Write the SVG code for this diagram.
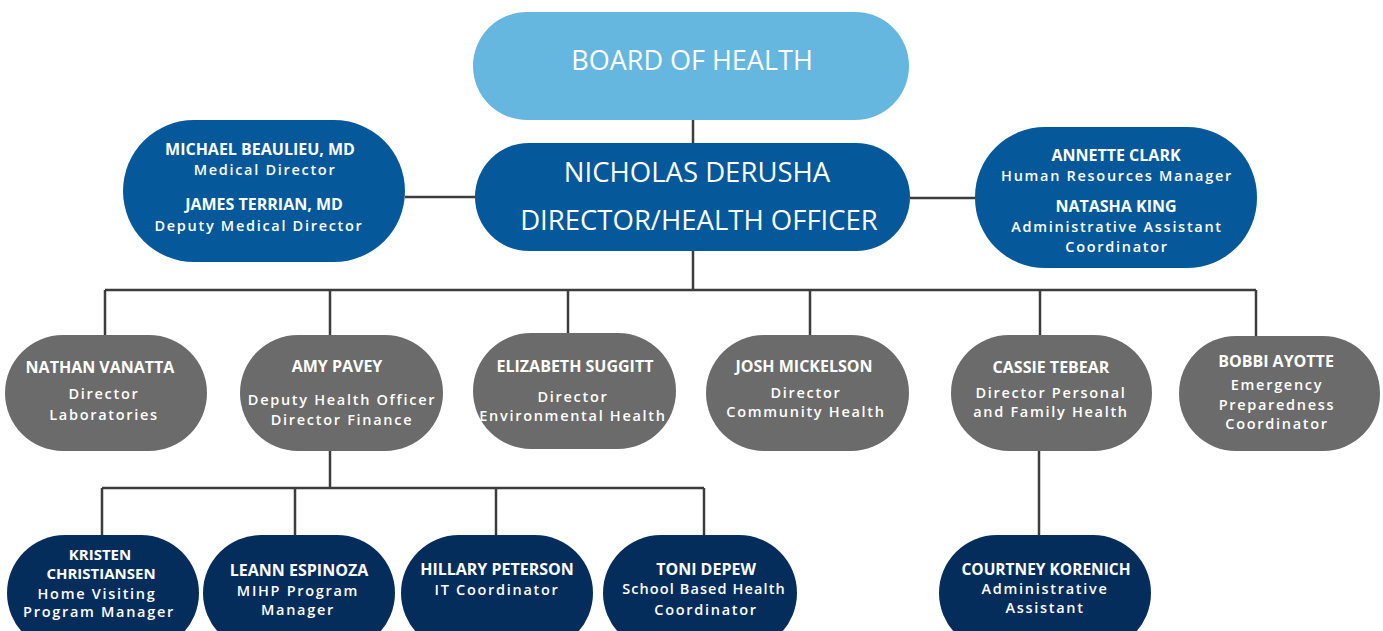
<svg xmlns="http://www.w3.org/2000/svg" width="1383" height="631" viewBox="0 0 1383 631">
<style>
.bg{fill:#ffffff}
.board{fill:#66b7e0}
.blue{fill:#05589a}
.gray{fill:#6b6b6b}
.navy{fill:#052d5c}
.line{stroke:#3d3d3d;stroke-width:2.5;fill:none}
text{font-family:"Open Sans","Liberation Sans",sans-serif;fill:#ffffff;text-anchor:middle}
.big{font-size:27.5px;font-weight:500}
.nm{font-size:16px;font-weight:700}
.sub{font-size:14.5px;font-weight:600;letter-spacing:1.7px}
</style>
<rect class="bg" x="0" y="0" width="1383" height="631"/>
<g id="connectors">
<path class="line" d="M693 120V143"/>
<path class="line" d="M405 197H475"/>
<path class="line" d="M910 198H975"/>
<path class="line" d="M693 251V290"/>
<path class="line" d="M105 290H1256"/>
<path class="line" d="M105 290V335M330 290V335M568 290V333M810 290V335M1040 290V335M1256 290V336"/>
<path class="line" d="M330 451V488"/>
<path class="line" d="M102 488H704"/>
<path class="line" d="M102 488V535M295 488V535M496 488V535M704 488V535"/>
<path class="line" d="M1039 451V535"/>
</g>
<g id="board">
<rect class="board" x="473" y="12" width="436" height="108" rx="54"/>
<text class="big" x="692" y="70" style="font-size:27px">BOARD OF HEALTH</text>
</g>
<g id="director">
<rect class="blue" x="475" y="143" width="435" height="108" rx="54"/>
<text class="big" x="697" y="182">NICHOLAS DERUSHA</text>
<text class="big" x="699" y="230">DIRECTOR/HEALTH OFFICER</text>
</g>
<g id="medical">
<rect class="blue" x="123" y="120" width="282" height="142" rx="71"/>
<text class="nm" x="260" y="155">MICHAEL BEAULIEU, MD</text>
<text class="sub" x="265" y="175">Medical Director</text>
<text class="nm" x="264" y="210">JAMES TERRIAN, MD</text>
<text class="sub" x="259" y="231">Deputy Medical Director</text>
</g>
<g id="hr">
<rect class="blue" x="975" y="127" width="282" height="141" rx="70"/>
<text class="nm" x="1116" y="161">ANNETTE CLARK</text>
<text class="sub" x="1117" y="181">Human Resources Manager</text>
<text class="nm" x="1116" y="212">NATASHA KING</text>
<text class="sub" x="1117" y="232">Administrative Assistant</text>
<text class="sub" x="1117" y="252">Coordinator</text>
</g>
<g id="nathan">
<rect class="gray" x="5" y="335" width="202" height="116" rx="58"/>
<text class="nm" x="100" y="373">NATHAN VANATTA</text>
<text class="sub" x="104" y="399">Director</text>
<text class="sub" x="104" y="420">Laboratories</text>
</g>
<g id="amy">
<rect class="gray" x="240" y="335" width="203" height="116" rx="58"/>
<text class="nm" x="337" y="372">AMY PAVEY</text>
<text class="sub" x="342" y="405">Deputy Health Officer</text>
<text class="sub" x="342" y="425">Director Finance</text>
</g>
<g id="elizabeth">
<rect class="gray" x="473" y="333" width="203" height="116" rx="58"/>
<text class="nm" x="575" y="372">ELIZABETH SUGGITT</text>
<text class="sub" x="573" y="402">Director</text>
<text class="sub" x="573" y="421">Environmental Health</text>
</g>
<g id="josh">
<rect class="gray" x="706" y="335" width="203" height="116" rx="58"/>
<text class="nm" x="804" y="372">JOSH MICKELSON</text>
<text class="sub" x="806" y="398">Director</text>
<text class="sub" x="806" y="417">Community Health</text>
</g>
<g id="cassie">
<rect class="gray" x="951" y="335" width="201" height="116" rx="58"/>
<text class="nm" x="1051" y="373">CASSIE TEBEAR</text>
<text class="sub" x="1051" y="398">Director Personal</text>
<text class="sub" x="1051" y="417">and Family Health</text>
</g>
<g id="bobbi">
<rect class="gray" x="1179" y="336" width="201" height="115" rx="57"/>
<text class="nm" x="1276" y="367">BOBBI AYOTTE</text>
<text class="sub" x="1277" y="390">Emergency</text>
<text class="sub" x="1277" y="410">Preparedness</text>
<text class="sub" x="1277" y="429">Coordinator</text>
</g>
<g id="kristen">
<rect class="navy" x="7" y="535" width="192" height="116" rx="58"/>
<text class="nm" x="100" y="560" style="font-size:15px">KRISTEN</text>
<text class="nm" x="101" y="579" style="font-size:15px">CHRISTIANSEN</text>
<text class="sub" x="97" y="599">Home Visiting</text>
<text class="sub" x="99" y="617">Program Manager</text>
</g>
<g id="leann">
<rect class="navy" x="203" y="535" width="192" height="116" rx="58"/>
<text class="nm" x="299" y="576">LEANN ESPINOZA</text>
<text class="sub" x="298" y="596">MIHP Program</text>
<text class="sub" x="298" y="615">Manager</text>
</g>
<g id="hillary">
<rect class="navy" x="401" y="535" width="192" height="116" rx="58"/>
<text class="nm" x="497" y="575">HILLARY PETERSON</text>
<text class="sub" x="497" y="595">IT Coordinator</text>
</g>
<g id="toni">
<rect class="navy" x="603" y="535" width="194" height="116" rx="58"/>
<text class="nm" x="706" y="575">TONI DEPEW</text>
<text class="sub" x="704" y="594" style="letter-spacing:1.1px">School Based Health</text>
<text class="sub" x="706" y="615">Coordinator</text>
</g>
<g id="courtney">
<rect class="navy" x="939" y="535" width="212" height="116" rx="58"/>
<text class="nm" x="1046" y="575" style="font-size:15.5px">COURTNEY KORENICH</text>
<text class="sub" x="1045" y="594">Administrative</text>
<text class="sub" x="1045" y="613">Assistant</text>
</g>
</svg>
